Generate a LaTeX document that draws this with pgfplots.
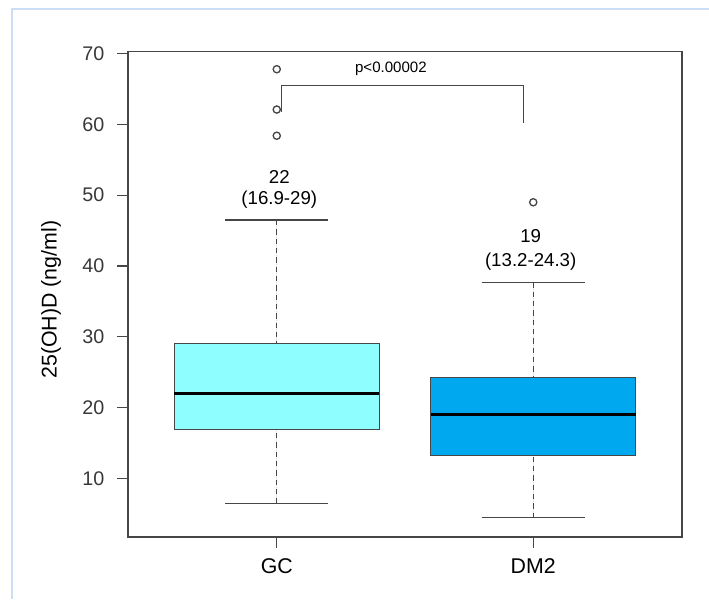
\documentclass[border=0pt]{standalone}
\usepackage{pgfplots}
\pgfplotsset{compat=1.18}
\usepgfplotslibrary{statistics}
\usepackage{fontspec}
\setmainfont{Liberation Sans}
\definecolor{gcfill}{RGB}{142,254,254}
\definecolor{dmfill}{RGB}{0,168,240}
\definecolor{framebl}{RGB}{204,222,246}
\definecolor{axgray}{RGB}{70,70,70}
\begin{document}
\begin{tikzpicture}
\useasboundingbox (0,0) rectangle (531.75pt,449.25pt);
\draw[framebl, line width=1.6pt] (9pt,0) -- (9pt,442.5pt) -- (531.75pt,442.5pt);
\begin{axis}[
  at={(96pt,46.5pt)}, anchor=south west,
  width=415.5pt, height=364.1pt, scale only axis,
  xmin=0.42, xmax=2.58, ymin=1.7, ymax=70.3,
  xtick={1,2}, xticklabels={GC,DM2},
  ytick={10,20,30,40,50,60,70},
  xtick pos=left, ytick pos=left, tick align=outside,
  major tick length=8.25pt,
  axis line style={axgray, line width=0.9pt},
  tick style={axgray, line width=0.9pt},
  /pgf/number format/assume math mode=true,
  yticklabel style={font=\fontsize{14.8}{17}\selectfont, color=black!78, xshift=-6pt},
  xticklabel style={font=\fontsize{16}{19}\selectfont, color=black, yshift=-4.5pt},
  ylabel={25(OH)D (ng/ml)},
  every axis y label/.style={at={(axis description cs:-0.139,0.489)}, rotate=90, anchor=center, font=\fontsize{16}{19}\selectfont},
  boxplot/draw direction=y,
  boxplot/box extend=0.8,
  boxplot/whisker extend=0.4,
  boxplot/every median/.style={black, line width=2.6pt},
  boxplot/draw/lower whisker/.code={
    \draw[axgray, line width=0.8pt, dash pattern=on 4pt off 3pt] (boxplot box cs:\pgfplotsboxplotvalue{lower whisker},0.5) -- (boxplot box cs:\pgfplotsboxplotvalue{lower quartile},0.5);
    \draw[axgray, line width=0.9pt] (boxplot whisker cs:\pgfplotsboxplotvalue{lower whisker},0) -- (boxplot whisker cs:\pgfplotsboxplotvalue{lower whisker},1);
  },
  boxplot/draw/upper whisker/.code={
    \draw[axgray, line width=0.8pt, dash pattern=on 4pt off 3pt] (boxplot box cs:\pgfplotsboxplotvalue{upper whisker},0.5) -- (boxplot box cs:\pgfplotsboxplotvalue{upper quartile},0.5);
    \draw[axgray, line width=0.9pt] (boxplot whisker cs:\pgfplotsboxplotvalue{upper whisker},0) -- (boxplot whisker cs:\pgfplotsboxplotvalue{upper whisker},1);
  },
  clip=false,
]
\addplot[draw=axgray, line width=0.8pt, fill=gcfill,
  boxplot prepared={draw position=1, median=22, lower quartile=16.9, upper quartile=29, lower whisker=6.4, upper whisker=46.5}]
  coordinates {};
\addplot[draw=axgray, line width=0.8pt, fill=dmfill,
  boxplot prepared={draw position=2, median=19, lower quartile=13.2, upper quartile=24.3, lower whisker=4.4, upper whisker=37.7}]
  coordinates {};
\addplot[only marks, mark=o, mark size=2.7pt, axgray, mark options={line width=1pt}]
  coordinates {(1,67.8) (1,62.1) (1,58.4) (2,49.0)};
\addplot[axgray, line width=0.8pt, mark=none, sharp plot]
  coordinates {(1.02,61.7) (1.02,65.5) (1.963,65.5) (1.963,60.2)};
\node[font=\fontsize{11.3}{13}\selectfont] at (axis cs:1.445,67.9) {p<0.00002};
\node[font=\fontsize{14}{16}\selectfont] at (axis cs:1.01,52.6) {22};
\node[font=\fontsize{14}{16}\selectfont] at (axis cs:1.01,49.3) {(16.9-29)};
\node[font=\fontsize{14}{16}\selectfont] at (axis cs:1.99,44.2) {19};
\node[font=\fontsize{14}{16}\selectfont] at (axis cs:1.99,40.6) {(13.2-24.3)};
\end{axis}
\end{tikzpicture}
\end{document}
